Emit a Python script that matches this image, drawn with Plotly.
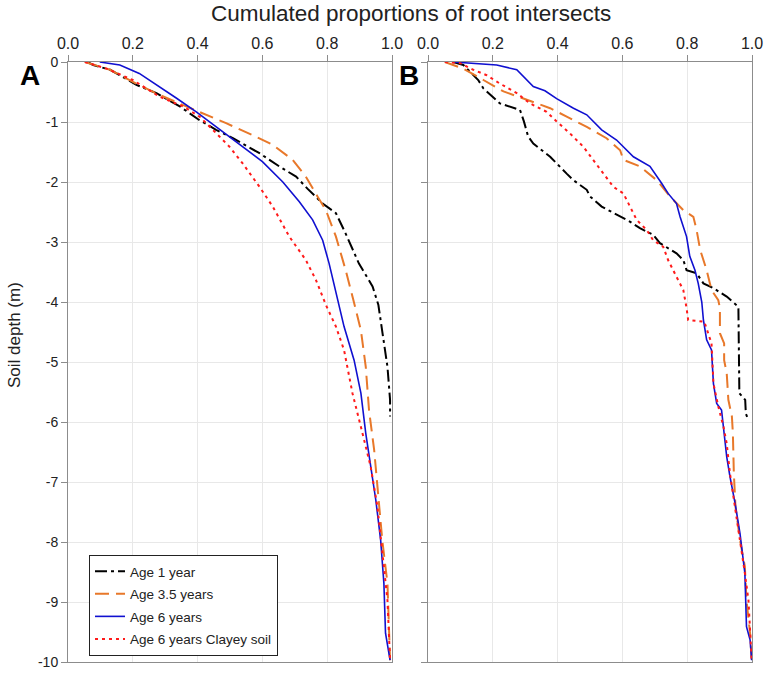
import plotly.graph_objects as go

# ---------------- Data ----------------
# Panel A
A_age1_x = [0.06, 0.078, 0.13, 0.211, 0.273, 0.345, 0.406, 0.457, 0.509, 0.591, 0.652, 0.704, 0.739, 0.786,
            0.827, 0.857, 0.898, 0.94, 0.958, 0.968, 0.986, 0.994, 0.994]
A_age1_d = [0, -0.05, -0.13, -0.38, -0.52, -0.74, -0.97, -1.13, -1.27, -1.52, -1.74, -1.91, -2.11, -2.36,
            -2.52, -2.86, -3.36, -3.74, -4.05, -4.41, -5.08, -5.63, -5.91]

A_age35_x = [0.052, 0.13, 0.211, 0.283, 0.365, 0.427, 0.488, 0.57, 0.632, 0.693, 0.734, 0.77, 0.796, 0.827,
             0.857, 0.88, 0.904, 0.919, 0.929, 0.945, 0.958, 0.97, 0.986, 0.991, 0.994]
A_age35_d = [0, -0.13, -0.36, -0.55, -0.74, -0.88, -1.02, -1.22, -1.38, -1.63, -1.91, -2.24, -2.47, -2.91,
             -3.47, -3.95, -4.47, -5.08, -5.8, -6.47, -7.19, -7.97, -8.69, -9.52, -9.97]

A_age6_x = [0.098, 0.16, 0.22, 0.283, 0.334, 0.396, 0.437, 0.498, 0.539, 0.60, 0.663, 0.714, 0.755, 0.786,
            0.806, 0.83, 0.852, 0.883, 0.904, 0.919, 0.934, 0.95, 0.965, 0.975, 0.98, 0.994]
A_age6_d = [0, -0.05, -0.19, -0.41, -0.6, -0.83, -1.0, -1.24, -1.41, -1.66, -2.0, -2.33, -2.63, -2.97,
            -3.36, -3.9, -4.41, -4.97, -5.52, -6.19, -6.74, -7.3, -7.97, -8.69, -9.52, -9.97]

A_clay_x = [0.052, 0.119, 0.2, 0.283, 0.355, 0.406, 0.447, 0.498, 0.539, 0.591, 0.632, 0.683, 0.734, 0.765,
            0.796, 0.827, 0.852, 0.878, 0.909, 0.934, 0.955, 0.97, 0.986, 0.994]
A_clay_d = [0, -0.11, -0.3, -0.58, -0.74, -0.91, -1.13, -1.41, -1.69, -2.08, -2.41, -2.91, -3.3, -3.63,
            -4.05, -4.41, -4.8, -5.52, -6.19, -6.74, -7.41, -8.13, -8.97, -9.97]

# Panel B
B_age1_x = [0.078, 0.109, 0.155, 0.171, 0.222, 0.284, 0.296, 0.309, 0.325, 0.377, 0.428, 0.449, 0.49, 0.5,
            0.536, 0.593, 0.623, 0.654, 0.695, 0.716, 0.767, 0.788, 0.798, 0.829, 0.85, 0.881, 0.922, 0.958,
            0.961, 0.979, 0.981, 0.989]
B_age1_d = [0, -0.05, -0.3, -0.44, -0.69, -0.8, -0.99, -1.24, -1.36, -1.58, -1.86, -1.97, -2.13, -2.24,
            -2.41, -2.58, -2.66, -2.77, -2.88, -3.02, -3.19, -3.3, -3.47, -3.52, -3.69, -3.77, -3.91, -4.08,
            -5.52, -5.63, -5.86, -5.97]

B_age35_x = [0.052, 0.109, 0.171, 0.233, 0.305, 0.377, 0.428, 0.49, 0.551, 0.593, 0.603, 0.654, 0.706, 0.747,
             0.788, 0.819, 0.829, 0.84, 0.86, 0.875, 0.896, 0.901, 0.901, 0.914, 0.914, 0.922, 0.927, 0.938,
             0.941, 0.944, 0.949, 0.963, 0.978, 0.983, 0.994, 0.999]
B_age35_d = [0, -0.11, -0.3, -0.49, -0.63, -0.77, -0.91, -1.08, -1.27, -1.47, -1.63, -1.74, -1.97, -2.24,
             -2.47, -2.58, -2.8, -3.13, -3.47, -3.8, -3.97, -4.1, -4.52, -4.69, -4.97, -5.19, -5.63, -5.91,
             -6.19, -6.86, -7.41, -7.97, -8.41, -8.97, -9.52, -9.97]

B_age6_x = [0.078, 0.212, 0.274, 0.325, 0.361, 0.397, 0.449, 0.49, 0.536, 0.582, 0.634, 0.685, 0.721, 0.741,
            0.767, 0.778, 0.798, 0.808, 0.824, 0.834, 0.845, 0.85, 0.86, 0.875, 0.881, 0.891, 0.906, 0.917,
            0.922, 0.932, 0.948, 0.963, 0.978, 0.983, 0.994, 0.999]
B_age6_d = [0, -0.05, -0.13, -0.41, -0.48, -0.61, -0.77, -0.88, -1.13, -1.3, -1.58, -1.74, -2.02, -2.19,
            -2.36, -2.58, -2.91, -3.24, -3.47, -3.69, -4.0, -4.3, -4.63, -4.8, -5.36, -5.69, -5.8, -6.3,
            -6.58, -6.91, -7.36, -7.86, -8.52, -9.41, -9.63, -9.97]

B_clay_x = [0.052, 0.099, 0.14, 0.181, 0.222, 0.274, 0.315, 0.366, 0.397, 0.438, 0.479, 0.51, 0.541, 0.572,
            0.603, 0.623, 0.644, 0.675, 0.695, 0.726, 0.741, 0.767, 0.788, 0.798, 0.803, 0.853, 0.865, 0.875,
            0.881, 0.896, 0.912, 0.922, 0.932, 0.948, 0.963, 0.978, 0.989, 0.994, 0.999]
B_clay_d = [0, -0.02, -0.13, -0.22, -0.36, -0.52, -0.69, -0.83, -0.99, -1.19, -1.41, -1.63, -1.86, -2.08,
            -2.19, -2.41, -2.63, -2.8, -2.97, -3.08, -3.3, -3.58, -3.8, -4.1, -4.3, -4.33, -4.52, -4.69,
            -5.36, -5.74, -6.08, -6.36, -6.86, -7.41, -7.97, -8.52, -8.97, -9.52, -9.97]

series_names = ["Age 1 year", "Age 3.5 years", "Age 6 years", "Age 6 years Clayey soil"]
x_ticks = [0.0, 0.2, 0.4, 0.6, 0.8, 1.0]
y_ticks = [0, -1, -2, -3, -4, -5, -6, -7, -8, -9, -10]

# ---------------- Styles ----------------
styles = [
    dict(color="#000000", dash="12px,4px,3px,4px", width=2),
    dict(color="#E8782A", dash="14px,7px", width=2),
    dict(color="#1010D0", dash="solid", width=1.6),
    dict(color="#FF1A1A", dash="3px,4px", width=2),
]

fig = go.Figure()
panelA = [(A_age1_x, A_age1_d), (A_age35_x, A_age35_d), (A_age6_x, A_age6_d), (A_clay_x, A_clay_d)]
panelB = [(B_age1_x, B_age1_d), (B_age35_x, B_age35_d), (B_age6_x, B_age6_d), (B_clay_x, B_clay_d)]

for i, (xs, ds) in enumerate(panelA):
    fig.add_trace(go.Scatter(x=xs, y=ds, mode="lines", name=series_names[i], line=styles[i],
                             xaxis="x", yaxis="y", showlegend=True, legendgroup=f"g{i}"))
for i, (xs, ds) in enumerate(panelB):
    fig.add_trace(go.Scatter(x=xs, y=ds, mode="lines", name=series_names[i], line=styles[i],
                             xaxis="x2", yaxis="y2", showlegend=False, legendgroup=f"g{i}"))

W, H = 765, 673


def px(x):
    return x / W


def py(y):
    return 1 - y / H


axis_common = dict(showgrid=True, gridcolor="#E8E8E8", gridwidth=1, showline=True, linecolor="#8C8C8C",
                   linewidth=1, mirror=True, ticks="outside", ticklen=6, tickcolor="#8C8C8C", zeroline=False,
                   automargin=False)
font_family = "Arial, Liberation Sans, sans-serif"
tickfont = dict(family=font_family, size=16, color="#222222")

fig.update_layout(
    width=W, height=H,
    margin=dict(l=0, r=0, t=0, b=0),
    paper_bgcolor="white", plot_bgcolor="white",
    font=dict(family=font_family, color="#222222"),
    xaxis=dict(domain=[px(68), px(392)], range=[0, 1], side="top", anchor="y",
               tickvals=x_ticks, ticktext=[f"{v:.1f}" for v in x_ticks], tickfont=tickfont, **axis_common),
    yaxis=dict(domain=[py(662), py(62)], range=[-10, 0], anchor="x", tickvals=y_ticks,
               ticktext=[str(v) for v in y_ticks], tickfont=dict(family=font_family, size=14, color="#222222"),
               **axis_common),
    xaxis2=dict(domain=[px(428), px(752)], range=[0, 1], side="top", anchor="y2",
                tickvals=x_ticks, ticktext=[f"{v:.1f}" for v in x_ticks], tickfont=tickfont, **axis_common),
    yaxis2=dict(domain=[py(662), py(62)], range=[-10, 0], anchor="x2", tickvals=y_ticks,
                showticklabels=False, **axis_common),
    legend=dict(x=px(89), y=py(555), xanchor="left", yanchor="top", bgcolor="white",
                bordercolor="#222222", borderwidth=1, font=dict(family=font_family, size=13.5, color="#222222"),
                itemwidth=30, tracegroupgap=2),
    annotations=[
        dict(text="Cumulated proportions of root intersects", x=px(411), y=py(13), xref="paper",
             yref="paper", xanchor="center", yanchor="middle", showarrow=False,
             font=dict(family=font_family, size=22.5, color="#222222")),
        dict(text="Soil depth (m)", x=px(14), y=py(335), xref="paper", yref="paper", xanchor="center",
             yanchor="middle", showarrow=False, textangle=-90,
             font=dict(family=font_family, size=17, color="#222222")),
        dict(text="<b>A</b>", x=px(30), y=py(75), xref="paper", yref="paper", xanchor="center",
             yanchor="middle", showarrow=False, font=dict(family=font_family, size=28, color="#000000")),
        dict(text="<b>B</b>", x=px(409), y=py(75), xref="paper", yref="paper", xanchor="center",
             yanchor="middle", showarrow=False, font=dict(family=font_family, size=28, color="#000000")),
    ],
)

# Remove the browser's default 8px page margin so the figure fills the window exactly.
fig.write_html("out.html", config={"displayModeBar": False},
               post_script="document.body.style.margin='0px';")
